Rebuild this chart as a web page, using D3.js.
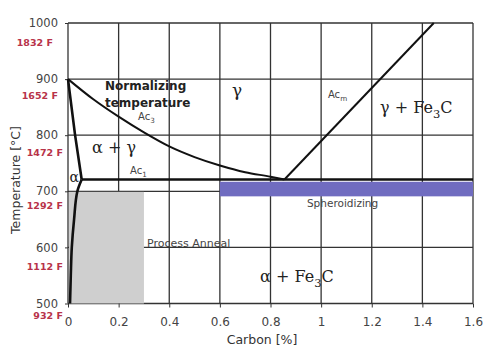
<html>
<script src="https://d3js.org/d3.v7.min.js"></script>
<style>
body { margin: 0; background: #fff; }
svg text { font-family: "DejaVu Sans", sans-serif; }
.tick text { fill: #444; }
.greek { font-family: "DejaVu Serif", serif; fill: #222; }
.small { fill: #444; }
</style>
<body>
<div id="chart"></div>
<script>
// axis ticks
let xTicks = [0, 0.2, 0.4, 0.6, 0.8, 1, 1.2, 1.4, 1.6];
let yTicks = [500, 600, 700, 800, 900, 1000];
let fLabels = ["932 F", "1112 F", "1292 F", "1472 F", "1652 F", "1832 F"];

// phase boundaries, carbon [%] vs temperature [C]
let a3Carbon = [0, 0.1, 0.2, 0.3, 0.4, 0.5, 0.6, 0.7, 0.8, 0.855];
let a3Temp   = [900, 864, 833, 805, 780, 761, 746, 734, 726, 721];
let acmCarbon = [0.855, 1.445];
let acmTemp   = [721, 1000];
let alphaUpCarbon = [0, 0.028, 0.054];
let alphaUpTemp   = [900, 800, 721];
let alphaLowCarbon = [0.054, 0.037, 0.024, 0.015, 0.011, 0.008];
let alphaLowTemp   = [721, 700, 650, 600, 550, 500];
let a1Carbon = [0.054, 1.6];
let a1Temp   = [721, 721];

// heat treatment ranges
let annealCarbon = [0, 0.3];
let annealTemp   = [500, 699];
let spheroCarbon = [0.6, 1.6];
let spheroTemp   = [691, 717];

let W = 492, H = 358;
let svg = d3.select("#chart").append("svg").attr("width", W).attr("height", H);

let x = d3.scaleLinear().domain([0, 1.6]).range([68, 473]);
let y = d3.scaleLinear().domain([500, 1000]).range([303.5, 23]);

// grid
let grid = svg.append("g").attr("stroke", "#333").attr("stroke-width", 1.3);
grid.selectAll(".gx").data(xTicks).enter().append("line")
    .attr("x1", d => x(d)).attr("x2", d => x(d))
    .attr("y1", y(500)).attr("y2", y(1000));
grid.selectAll(".gy").data(yTicks).enter().append("line")
    .attr("x1", x(0)).attr("x2", x(1.6))
    .attr("y1", d => y(d)).attr("y2", d => y(d));

// process anneal + spheroidizing bands
svg.append("rect")
    .attr("x", x(annealCarbon[0]) + 1).attr("y", y(annealTemp[1]))
    .attr("width", x(annealCarbon[1]) - x(annealCarbon[0]) - 1)
    .attr("height", y(annealTemp[0]) - y(annealTemp[1]))
    .attr("fill", "#cfcfcf");
svg.append("rect")
    .attr("x", x(spheroCarbon[0])).attr("y", y(spheroTemp[1]))
    .attr("width", x(spheroCarbon[1]) - x(spheroCarbon[0]))
    .attr("height", y(spheroTemp[0]) - y(spheroTemp[1]))
    .attr("fill", "#706cc0");

// axes
let xAxis = d3.axisBottom(x).tickValues(xTicks).tickFormat(d3.format("")).tickSize(4).tickPadding(10);
svg.append("g").attr("transform", `translate(0,${y(500)})`).call(xAxis)
    .call(g => g.select(".domain").remove())
    .call(g => g.selectAll("line").attr("stroke", "#333"))
    .call(g => g.selectAll("text").attr("font-size", 12).attr("font-family", "DejaVu Sans"));
let yAxis = d3.axisLeft(y).tickValues(yTicks).tickFormat(d3.format("d")).tickSize(3).tickPadding(7);
svg.append("g").attr("transform", `translate(${x(0)},0)`).call(yAxis)
    .call(g => g.select(".domain").remove())
    .call(g => g.selectAll("line").attr("stroke", "#333"))
    .call(g => g.selectAll("text").attr("font-size", 11.5).attr("font-family", "DejaVu Sans"));

// fahrenheit labels under each celsius tick
let fShift = [0, 0, 0, 0, 5, 10];
let fDrop = [12, 19, 14, 17, 16, 19];
svg.selectAll(".flab").data(fLabels).enter().append("text")
    .attr("x", (d, i) => 63 - fShift[i])
    .attr("y", (d, i) => y(yTicks[i]) + fDrop[i] + 3.5)
    .attr("text-anchor", "end")
    .attr("font-size", 9.5).attr("font-weight", "bold")
    .attr("fill", "#b8334a")
    .text(d => d);

// boundaries
let line = d3.line().x(d => x(d[0])).y(d => y(d[1]));
let zip = (a, b) => a.map((v, i) => [v, b[i]]);
svg.append("path").datum(zip(a3Carbon, a3Temp))
    .attr("d", line.curve(d3.curveMonotoneX)).attr("fill", "none").attr("stroke", "#111").attr("stroke-width", 2);
line.curve(d3.curveLinear);
svg.append("path").datum(zip(acmCarbon, acmTemp))
    .attr("d", line).attr("fill", "none").attr("stroke", "#111").attr("stroke-width", 2);
svg.append("path").datum(zip(a1Carbon, a1Temp))
    .attr("d", line).attr("fill", "none").attr("stroke", "#111").attr("stroke-width", 2.6);
svg.append("path").datum(zip(alphaUpCarbon, alphaUpTemp))
    .attr("d", line).attr("fill", "none").attr("stroke", "#111").attr("stroke-width", 2.6);
svg.append("path").datum(zip(alphaLowCarbon, alphaLowTemp))
    .attr("d", d3.line().x(d => x(d[0])).y(d => y(d[1])).curve(d3.curveMonotoneY))
    .attr("fill", "none").attr("stroke", "#111").attr("stroke-width", 2.6);

// annotations
function label(c, t, cls, size) {
    return svg.append("text").attr("x", x(c)).attr("y", y(t))
        .attr("class", cls).attr("font-size", size);
}
function sub(sel, main, s, rest, size) {
    sel.append("tspan").text(main);
    sel.append("tspan").attr("dy", size * 0.3).attr("font-size", size * 0.72).text(s);
    if (rest) sel.append("tspan").attr("dy", -size * 0.3).text(rest);
}
label(0.146, 880, "", 12).attr("font-weight", "bold").attr("fill", "#222").text("Normalizing");
label(0.146, 850, "", 12).attr("font-weight", "bold").attr("fill", "#222").text("temperature");
sub(label(0.277, 827, "small", 10), "Ac", "3", null, 10);
sub(label(1.027, 866, "small", 10), "Ac", "m", null, 10);
sub(label(0.245, 731, "small", 10), "Ac", "1", null, 10);
label(0.668, 869, "greek", 17).attr("text-anchor", "middle").text("γ");
sub(label(1.233, 840, "greek", 16), "γ + Fe", "3", "C", 16);
label(0.095, 768, "greek", 16).text("α + γ");
label(0.006, 716, "greek", 14).text("α");
sub(label(0.759, 538, "greek", 16), "α + Fe", "3", "C", 16);
label(0.944, 672, "small", 10.5).attr("fill", "#333").text("Spheroidizing");
label(0.312, 601, "small", 11).attr("fill", "#333").text("Process Anneal");

// axis titles
svg.append("text").attr("x", 262).attr("y", 344).attr("text-anchor", "middle")
    .attr("font-size", 12.5).attr("fill", "#333").text("Carbon [%]");
svg.append("text").attr("transform", "translate(20,180) rotate(-90)").attr("text-anchor", "middle")
    .attr("font-size", 12.5).attr("fill", "#333").text("Temperature [°C]");
</script>
</body>
</html>
